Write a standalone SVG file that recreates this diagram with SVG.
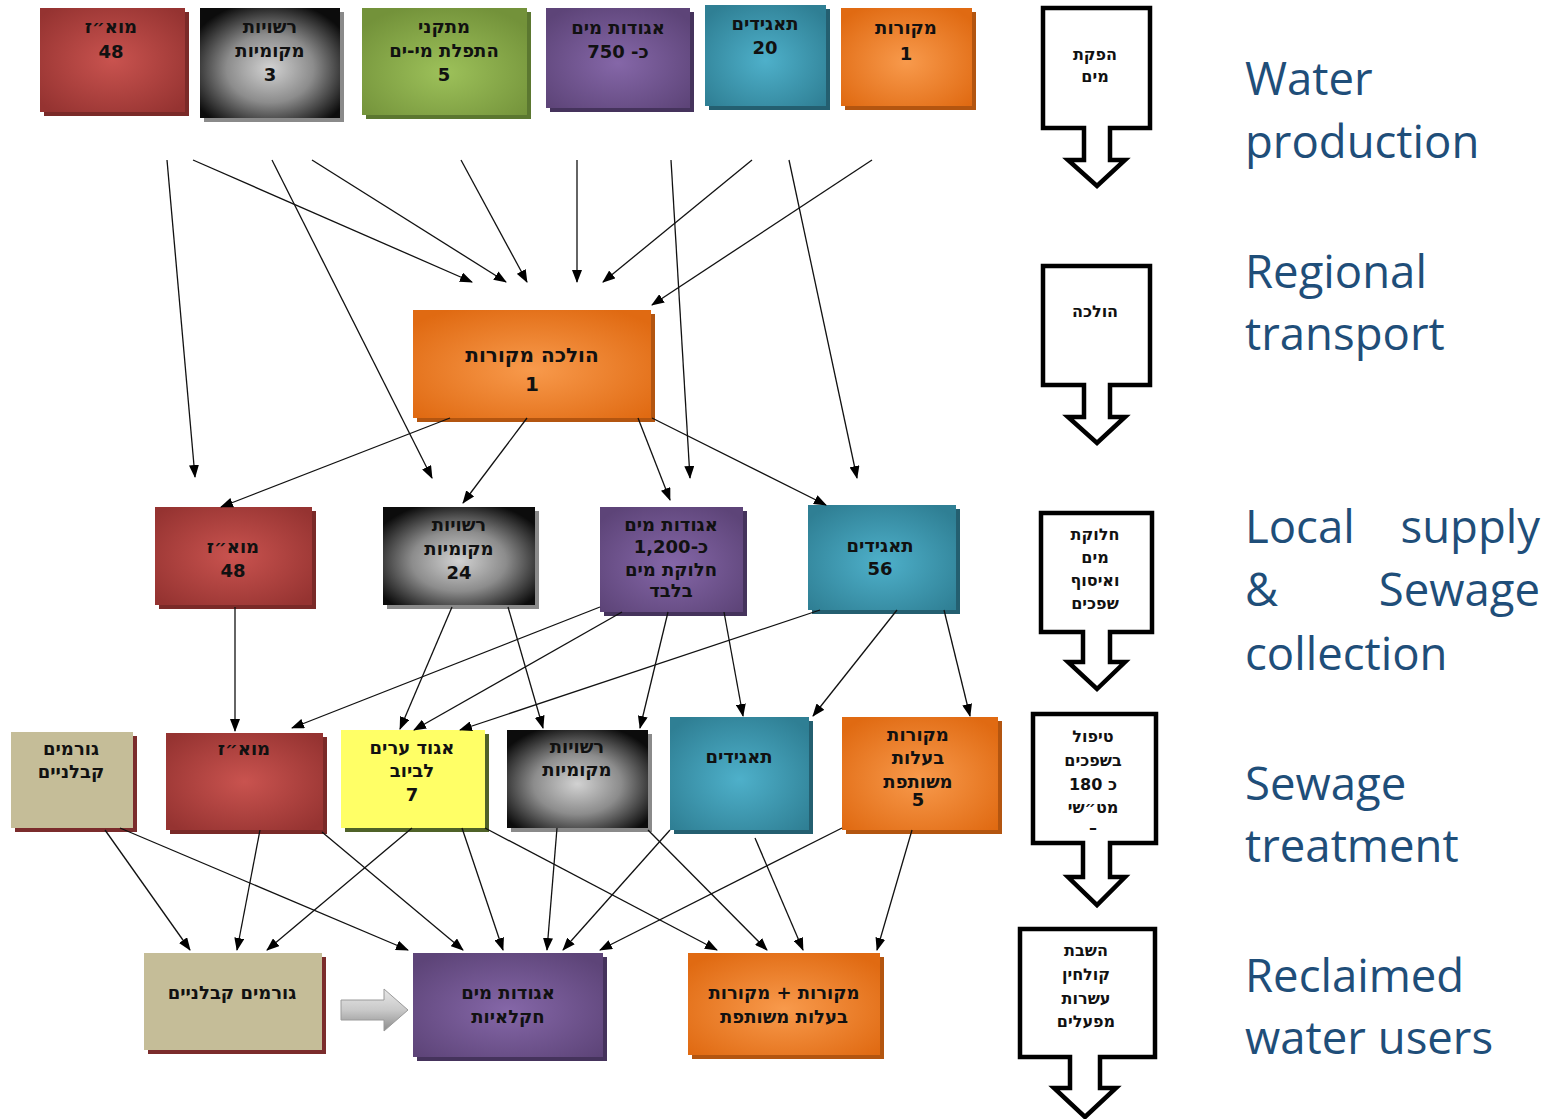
<svg xmlns="http://www.w3.org/2000/svg" width="1558" height="1119" viewBox="0 0 1558 1119">
<style>
.t{font-family:"DejaVu Sans","Liberation Sans",sans-serif;font-weight:bold;font-size:18px;fill:#111;text-anchor:middle;direction:rtl;unicode-bidi:embed}
.tb{font-size:20px}
.st{font-family:"DejaVu Sans","Liberation Sans",sans-serif;font-weight:bold;font-size:16px;fill:#111;text-anchor:middle;direction:rtl;unicode-bidi:embed}
.en{font-family:"Open Sans","Liberation Sans",sans-serif;font-size:45.5px;fill:#1F4E79}
.cn line{stroke:#111;stroke-width:1.3;marker-end:url(#ah)}
.stage{fill:#fff;stroke:#000;stroke-width:4.5;stroke-linejoin:miter}
</style>
<defs>
<marker id="ah" markerUnits="userSpaceOnUse" markerWidth="13" markerHeight="10" refX="12" refY="5" orient="auto"><path d="M0,0 L13,5 L0,10 z" fill="#000"/></marker>
<radialGradient id="gRed" cx="50%" cy="50%" r="65%"><stop offset="0" stop-color="#c9534f"/><stop offset="1" stop-color="#953331"/></radialGradient>
<radialGradient id="gBlk" cx="50%" cy="55%" r="62%"><stop offset="0" stop-color="#d2d2d2"/><stop offset="0.5" stop-color="#8c8c8c"/><stop offset="1" stop-color="#0c0c0c"/></radialGradient>
<radialGradient id="gGrn" cx="50%" cy="60%" r="65%"><stop offset="0" stop-color="#9dc15a"/><stop offset="1" stop-color="#73923a"/></radialGradient>
<radialGradient id="gPur" cx="50%" cy="55%" r="65%"><stop offset="0" stop-color="#8567a8"/><stop offset="1" stop-color="#5d4478"/></radialGradient>
<radialGradient id="gTeal" cx="50%" cy="55%" r="65%"><stop offset="0" stop-color="#4eb0ca"/><stop offset="1" stop-color="#2f7f94"/></radialGradient>
<radialGradient id="gOr" cx="50%" cy="55%" r="65%"><stop offset="0" stop-color="#f89a4c"/><stop offset="1" stop-color="#e06a12"/></radialGradient>
<linearGradient id="gArr" x1="0" y1="0" x2="0" y2="1"><stop offset="0" stop-color="#e8e8e8"/><stop offset="0.5" stop-color="#c9c9c9"/><stop offset="1" stop-color="#8c8c8c"/></linearGradient>
</defs>

<!-- Top row -->
<g id="n-moaz-top"><rect x="44" y="12" width="145" height="104" fill="#7a2a28"/><rect x="40" y="8" width="145" height="104" fill="url(#gRed)"/><text class="t" x="111" y="33">מוא״ז</text><text class="t" x="111" y="58">48</text></g>
<g id="n-rashuyot-top"><rect x="204" y="12" width="140" height="110" fill="#8a8a8a"/><rect x="200" y="8" width="140" height="110" fill="url(#gBlk)"/><text class="t" x="270" y="33">רשויות</text><text class="t" x="270" y="57">מקומיות</text><text class="t" x="270" y="81">3</text></g>
<g id="n-desal"><rect x="366" y="12" width="165" height="107" fill="#5b7730"/><rect x="362" y="8" width="165" height="107" fill="url(#gGrn)"/><text class="t" x="444" y="33">מתקני</text><text class="t" x="444" y="57">התפלת מי-ים</text><text class="t" x="444" y="81">5</text></g>
<g id="n-agudot-top"><rect x="550" y="12" width="144" height="100" fill="#45335c"/><rect x="546" y="8" width="144" height="100" fill="url(#gPur)"/><text class="t" x="618" y="34">אגודות מים</text><text class="t" x="618" y="58">כ- 750</text></g>
<g id="n-taagidim-top"><rect x="709" y="9" width="121" height="101" fill="#245f70"/><rect x="705" y="5" width="121" height="101" fill="url(#gTeal)"/><text class="t" x="765" y="30">תאגידים</text><text class="t" x="765" y="54">20</text></g>
<g id="n-mekorot-top"><rect x="845" y="12" width="131" height="98" fill="#b35510"/><rect x="841" y="8" width="131" height="98" fill="url(#gOr)"/><text class="t" x="906" y="34">מקורות</text><text class="t" x="906" y="60">1</text></g>

<!-- Middle -->
<g id="n-holacha"><rect x="417" y="314" width="238" height="108" fill="#b35510"/><rect x="413" y="310" width="238" height="108" fill="url(#gOr)"/><text class="t tb" x="532" y="362">הולכה מקורות</text><text class="t tb" x="532" y="391">1</text></g>

<!-- Row 3 -->
<g id="n-moaz-r3"><rect x="159" y="511" width="157" height="98" fill="#7a2a28"/><rect x="155" y="507" width="157" height="98" fill="url(#gRed)"/><text class="t" x="233" y="553">מוא״ז</text><text class="t" x="233" y="577">48</text></g>
<g id="n-rashuyot-r3"><rect x="387" y="511" width="152" height="98" fill="#8a8a8a"/><rect x="383" y="507" width="152" height="98" fill="url(#gBlk)"/><text class="t" x="459" y="531">רשויות</text><text class="t" x="459" y="555">מקומיות</text><text class="t" x="459" y="579">24</text></g>
<g id="n-agudot-r3"><rect x="604" y="511" width="143" height="105" fill="#45335c"/><rect x="600" y="507" width="143" height="105" fill="url(#gPur)"/><text class="t" x="671" y="531">אגודות מים</text><text class="t" x="671" y="553">כ-1,200</text><text class="t" x="671" y="576">חלוקת מים</text><text class="t" x="671" y="597">בלבד</text></g>
<g id="n-taagidim-r3"><rect x="812" y="509" width="148" height="105" fill="#245f70"/><rect x="808" y="505" width="148" height="105" fill="url(#gTeal)"/><text class="t" x="880" y="552">תאגידים</text><text class="t" x="880" y="575">56</text></g>

<!-- Row 4 -->
<g id="n-kablanim-r4"><rect x="15" y="736" width="122" height="96" fill="#7b2c2c"/><rect x="11" y="732" width="122" height="96" fill="#c5bd98"/><text class="t" x="71" y="755">גורמים</text><text class="t" x="71" y="778">קבלניים</text></g>
<g id="n-moaz-r4"><rect x="170" y="737" width="157" height="97" fill="#7a2a28"/><rect x="166" y="733" width="157" height="97" fill="url(#gRed)"/><text class="t" x="244" y="755">מוא״ז</text></g>
<g id="n-igud"><rect x="345" y="734" width="144" height="98" fill="#4f6228"/><rect x="341" y="730" width="144" height="98" fill="#ffff66"/><text class="t" x="412" y="754">אגוד ערים</text><text class="t" x="412" y="777">לביוב</text><text class="t" x="412" y="801">7</text></g>
<g id="n-rashuyot-r4"><rect x="511" y="734" width="141" height="98" fill="#8a8a8a"/><rect x="507" y="730" width="141" height="98" fill="url(#gBlk)"/><text class="t" x="577" y="753">רשויות</text><text class="t" x="577" y="776">מקומיות</text></g>
<g id="n-taagidim-r4"><rect x="674" y="721" width="139" height="113" fill="#245f70"/><rect x="670" y="717" width="139" height="113" fill="url(#gTeal)"/><text class="t" x="739" y="763">תאגידים</text></g>
<g id="n-mekorot-r4"><rect x="846" y="721" width="156" height="113" fill="#b35510"/><rect x="842" y="717" width="156" height="113" fill="url(#gOr)"/><text class="t" x="918" y="741">מקורות</text><text class="t" x="918" y="764">בעלות</text><text class="t" x="918" y="788">משותפת</text><text class="t" x="918" y="806">5</text></g>

<!-- Row 5 -->
<g id="n-kablanim-r5"><rect x="148" y="957" width="178" height="97" fill="#7b2c2c"/><rect x="144" y="953" width="178" height="97" fill="#c5bd98"/><text class="t" x="232" y="999">גורמים קבלניים</text></g>
<g id="n-agudot-r5"><rect x="417" y="957" width="190" height="104" fill="#45335c"/><rect x="413" y="953" width="190" height="104" fill="url(#gPur)"/><text class="t" x="508" y="999">אגודות מים</text><text class="t" x="508" y="1023">חקלאיות</text></g>
<g id="n-mekorot-r5"><rect x="692" y="957" width="192" height="102" fill="#b35510"/><rect x="688" y="953" width="192" height="102" fill="url(#gOr)"/><text class="t" x="784" y="999">מקורות + מקורות</text><text class="t" x="784" y="1023">בעלות משותפת</text></g>

<!-- Block arrow -->
<g id="n-blockarrow"><path d="M341,1000 H384 V989 L408,1010 L384,1031 V1020 H341 Z" fill="url(#gArr)" stroke="#9a9a9a" stroke-width="1"/></g>

<!-- Connectors -->
<g id="connectors" class="cn">
<line x1="167" y1="160" x2="195" y2="477"/>
<line x1="193" y1="160" x2="472" y2="282"/>
<line x1="272" y1="160" x2="432" y2="478"/>
<line x1="312" y1="160" x2="506" y2="282"/>
<line x1="461" y1="160" x2="527" y2="282"/>
<line x1="577" y1="160" x2="577" y2="282"/>
<line x1="671" y1="160" x2="690" y2="478"/>
<line x1="752" y1="160" x2="603" y2="282"/>
<line x1="789" y1="160" x2="857" y2="478"/>
<line x1="872" y1="160" x2="652" y2="305"/>
<line x1="450" y1="418" x2="221" y2="507"/>
<line x1="527" y1="418" x2="463" y2="503"/>
<line x1="638" y1="418" x2="670" y2="500"/>
<line x1="652" y1="418" x2="826" y2="505"/>
<line x1="235" y1="607" x2="235" y2="731"/>
<line x1="600" y1="607" x2="292" y2="728"/>
<line x1="452" y1="607" x2="400" y2="729"/>
<line x1="622" y1="612" x2="414" y2="730"/>
<line x1="820" y1="610" x2="460" y2="730"/>
<line x1="508" y1="607" x2="543" y2="728"/>
<line x1="668" y1="612" x2="640" y2="728"/>
<line x1="724" y1="612" x2="743" y2="716"/>
<line x1="897" y1="610" x2="813" y2="716"/>
<line x1="944" y1="610" x2="970" y2="716"/>
<line x1="105" y1="830" x2="190" y2="950"/>
<line x1="120" y1="828" x2="408" y2="950"/>
<line x1="260" y1="830" x2="237" y2="950"/>
<line x1="412" y1="828" x2="267" y2="950"/>
<line x1="322" y1="832" x2="463" y2="950"/>
<line x1="462" y1="828" x2="503" y2="950"/>
<line x1="557" y1="828" x2="547" y2="950"/>
<line x1="670" y1="830" x2="563" y2="950"/>
<line x1="842" y1="828" x2="600" y2="950"/>
<line x1="485" y1="828" x2="717" y2="950"/>
<line x1="648" y1="830" x2="767" y2="950"/>
<line x1="755" y1="838" x2="803" y2="950"/>
<line x1="912" y1="830" x2="877" y2="950"/>
</g>

<!-- Stage arrows -->
<g id="stage-production"><path class="stage" d="M1043,8 H1150 V128 H1110 V160 H1125 L1097,186 L1068,160 H1084 V128 H1043 Z"/><text class="st" x="1095" y="60">הפקת</text><text class="st" x="1095" y="82">מים</text></g>
<g id="stage-transport"><path class="stage" d="M1043,266 H1150 V385 H1110 V417 H1125 L1097,443 L1068,417 H1084 V385 H1043 Z"/><text class="st" x="1095" y="317">הולכה</text></g>
<g id="stage-supply"><path class="stage" d="M1041,513 H1152 V632 H1110 V662 H1125 L1097,689 L1068,662 H1083 V632 H1041 Z"/><text class="st" x="1095" y="540">חלוקת</text><text class="st" x="1095" y="563">מים</text><text class="st" x="1095" y="586">ואיסוף</text><text class="st" x="1095" y="609">שפכים</text></g>
<g id="stage-treatment"><path class="stage" d="M1033,714 H1156 V843 H1110 V877 H1125 L1097,905 L1068,877 H1083 V843 H1033 Z"/><text class="st" x="1093" y="742">טיפול</text><text class="st" x="1093" y="766">בשפכים</text><text class="st" x="1093" y="790">כ 180</text><text class="st" x="1093" y="813">מט״שי</text><text class="st" x="1093" y="833">–</text></g>
<g id="stage-reuse"><path class="stage" d="M1020,929 H1155 V1057 H1100 V1088 H1116 L1085,1117 L1054,1088 H1070 V1057 H1020 Z"/><text class="st" x="1086" y="956">השבת</text><text class="st" x="1086" y="980">קולחין</text><text class="st" x="1086" y="1004">עשרות</text><text class="st" x="1086" y="1027">מפעלים</text></g>

<!-- English labels -->
<g id="labels">
<text class="en" x="1245" y="95">Water</text>
<text class="en" x="1245" y="158">production</text>
<text class="en" x="1245" y="288">Regional</text>
<text class="en" x="1245" y="350">transport</text>
<text class="en" x="1245" y="543">Local</text>
<text class="en" x="1540" y="543" text-anchor="end">supply</text>
<text class="en" x="1245" y="606">&amp;</text>
<text class="en" x="1540" y="606" text-anchor="end">Sewage</text>
<text class="en" x="1245" y="670">collection</text>
<text class="en" x="1245" y="800">Sewage</text>
<text class="en" x="1245" y="862">treatment</text>
<text class="en" x="1245" y="992">Reclaimed</text>
<text class="en" x="1245" y="1054">water users</text>
</g>
</svg>
